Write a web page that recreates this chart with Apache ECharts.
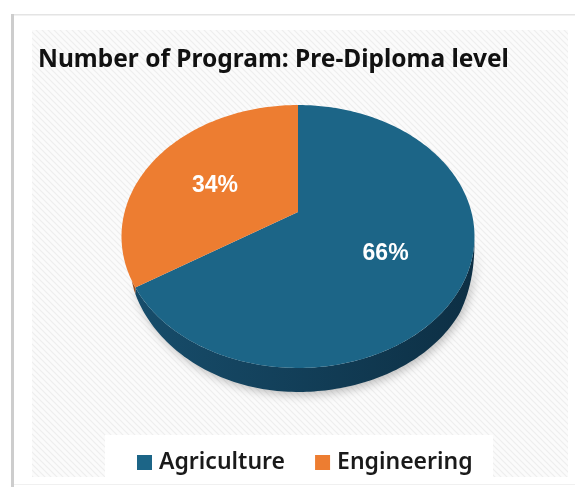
<!DOCTYPE html>
<html>
<head>
<meta charset="utf-8">
<style>
html,body{margin:0;padding:0;background:#fff;}
#chart{width:575px;height:487px;}
</style>
<script src="https://cdn.jsdelivr.net/npm/echarts@6/dist/echarts.min.js"></script>
</head>
<body>
<div id="chart"></div>
<script>
// ---- data ----
const categories = ['Agriculture', 'Engineering'];
const values = [66, 34];
const titleText = 'Number of Program: Pre-Diploma level';

// ---- styles ----
const topColors = ['#1c6587', '#ed7d31'];
const sideColors = [['#174d6b', '#0d2f44'], ['#b85a1f', '#a04c18']];

// ---- projection of a tilted pie (layout constants) ----
const CX = 298, CY = 212, RA = 173.4, RB = 126.9, K = 0.1863, DEPTH = 24;
function proj(tDeg, r) {
  const t = tDeg * Math.PI / 180;
  const u = r * Math.sin(t), v = -r * Math.cos(t);
  const w = 1 - K * v;
  return [CX + RA * u / w, CY + RB * v / w, v, u];
}
function depthAt(v, u) {
  let f;
  if (u >= 0) f = Math.max(0, Math.min(1, (v - K) / (0.55 - K)));
  else f = Math.max(0, Math.min(1, (v - 0.5) / 0.5));
  return DEPTH * Math.pow(f, 0.5);
}
function arc(a0, a1, r, withDepth) {
  const pts = [];
  const n = Math.max(2, Math.ceil(Math.abs(a1 - a0)));
  for (let i = 0; i <= n; i++) {
    const p = proj(a0 + (a1 - a0) * i / n, r);
    pts.push([p[0], p[1] + (withDepth ? depthAt(p[2], p[3]) : 0)]);
  }
  return pts;
}
const total = values.reduce((a, b) => a + b, 0);
const starts = [];
values.reduce((acc, v, i) => { starts[i] = acc; return acc + v; }, 0);
const silL = 90 + Math.asin(K) * 180 / Math.PI, silR = 270 - Math.asin(K) * 180 / Math.PI;

function makeRender(ci) {
  return function (params, api) {
    const val = api.value(0);
    const a0 = starts[ci] / total * 360;
    const a1 = (starts[ci] + val) / total * 360;
    const children = [];
    // side wall (front visible part)
    const s0 = Math.max(a0, silL), s1 = Math.min(a1, silR);
    if (s1 > s0) {
      const topArc = arc(s0, s1, 1, false);
      const botArc = arc(s1, s0, 1, true);
      children.push({
        type: 'polygon',
        z2: 1,
        shape: { points: topArc.concat(botArc) },
        style: {
          fill: new echarts.graphic.LinearGradient(0, 0, 1, 0, [
            { offset: 0, color: sideColors[ci][0] },
            { offset: 1, color: sideColors[ci][1] }
          ]),
          shadowBlur: 10, shadowColor: 'rgba(0,0,0,0.25)', shadowOffsetY: 3, shadowOffsetX: 2
        }
      });
    }
    // top face
    const pts = [[CX, CY]].concat(arc(a0, a1, 1, false));
    children.push({
      type: 'polygon',
      z2: 10,
      shape: { points: pts },
      style: { fill: topColors[ci] }
    });
    // label
    const mid = (a0 + a1) / 2;
    const lp = proj(mid, 0.56);
    children.push({
      type: 'text',
      z2: 20,
      style: {
        text: Math.round(val / total * 100) + '%',
        x: lp[0] - 2, y: lp[1] + 6,
        fill: '#ffffff',
        fontSize: 23, fontWeight: 'bold', fontFamily: '"Liberation Sans", Arial, sans-serif',
        textAlign: 'center', textVerticalAlign: 'middle'
      }
    });
    return { type: 'group', children: children };
  };
}

// hatch pattern
const pc = document.createElement('canvas');
pc.width = 6; pc.height = 6;
const ctx = pc.getContext('2d');
ctx.fillStyle = '#fbfbfb';
ctx.fillRect(0, 0, 6, 6);
ctx.strokeStyle = '#eeeeee';
ctx.lineWidth = 1.2;
ctx.beginPath();
ctx.moveTo(-1, -1); ctx.lineTo(7, 7);
ctx.moveTo(-1, 5); ctx.lineTo(1, 7);
ctx.moveTo(5, -1); ctx.lineTo(7, 1);
ctx.stroke();

const chart = echarts.init(document.getElementById('chart'), null, { renderer: 'canvas' });
chart.setOption({
  animation: false,
  backgroundColor: '#ffffff',
  graphic: [
    { type: 'rect', z: -10, shape: { x: 11, y: 14, width: 570, height: 1.5 }, style: { fill: '#e4e4e4' } },
    { type: 'rect', z: -10, shape: { x: 11, y: 14, width: 3, height: 480 }, style: { fill: '#cdcdcd' } },
    { type: 'rect', z: -10, shape: { x: 14, y: 484, width: 570, height: 1 }, style: { fill: '#f0f0f0' } },
    { type: 'rect', z: -9, shape: { x: 32, y: 30, width: 536, height: 447 }, style: { fill: { image: pc, repeat: 'repeat' } } },
    { type: 'rect', z: -8, shape: { x: 105, y: 435, width: 388, height: 42 }, style: { fill: '#ffffff' } }
  ],
  title: {
    text: titleText,
    left: 33,
    top: 40,
    textStyle: {
      fontFamily: '"Noto Sans", sans-serif',
      fontSize: 24.5,
      fontWeight: 'bold',
      color: '#111111',
      lineHeight: 30
    }
  },
  legend: {
    data: categories,
    left: 132,
    top: 446,
    icon: 'rect',
    itemWidth: 15,
    itemHeight: 15,
    itemGap: 30,
    textStyle: {
      fontFamily: '"Noto Sans", sans-serif',
      fontSize: 23,
      fontWeight: 600,
      color: '#1a1a1a',
      padding: [0, 0, 0, 2]
    }
  },
  series: categories.map((name, i) => ({
    type: 'custom',
    name: name,
    coordinateSystem: 'none',
    itemStyle: { color: topColors[i] },
    data: [values[i]],
    renderItem: makeRender(i)
  }))
});
</script>
</body>
</html>
